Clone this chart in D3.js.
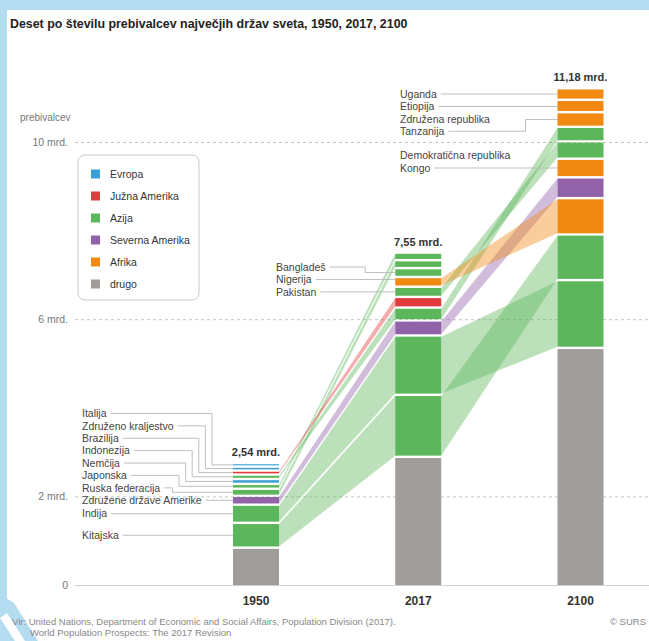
<!DOCTYPE html>
<html>
<head>
<meta charset="utf-8">
<script src="https://cdn.jsdelivr.net/npm/d3@7/dist/d3.min.js"></script>
<style>
  body { margin: 0; background: #fff; }
  svg text { font-family: "Liberation Sans", Arial, sans-serif; }
</style>
</head>
<body>
<svg id="chart" width="649" height="641"></svg>
<script>
(function () {
  'use strict';

  // ---- data (values in billions) ----
  var years = ['1950', '2017', '2100'];
  var totalLabels = ['2,54 mrd.', '7,55 mrd.', '11,18 mrd.'];

  var regions = ['Evropa', 'Južna Amerika', 'Azija', 'Severna Amerika', 'Afrika', 'drugo'];
  var regionColors = ['#3a9fd6', '#e23b3e', '#5cb65b', '#9262a9', '#f28a12', '#a09d9b'];

  // stacked from the bottom up
  var countries1950 = ['drugo', 'Kitajska', 'Indija', 'Združene države Amerike', 'Ruska federacija', 'Japonska', 'Nemčija', 'Indonezija', 'Brazilija', 'Združeno kraljestvo', 'Italija'];
  var region1950 = [5, 2, 2, 3, 2, 2, 0, 2, 1, 0, 0];
  var values1950 = [0.87, 0.56, 0.41, 0.20, 0.16, 0.11, 0.11, 0.10, 0.09, 0.09, 0.08];

  var countries2017 = ['drugo', 'Kitajska', 'Indija', 'Združene države Amerike', 'Indonezija', 'Brazilija', 'Pakistan', 'Nigerija', 'Bangladeš', 'Ruska federacija', 'Japonska'];
  var region2017 = [5, 2, 2, 3, 2, 1, 2, 4, 2, 2, 2];
  var values2017 = [2.92, 1.40, 1.34, 0.34, 0.29, 0.24, 0.23, 0.22, 0.20, 0.18, 0.17];

  var countries2100 = ['drugo', 'Indija', 'Kitajska', 'Nigerija', 'Združene države Amerike', 'Demokratična republika|Kongo', 'Pakistan', 'Indonezija', 'Združena republika|Tanzanija', 'Etiopija', 'Uganda'];
  var region2100 = [5, 2, 2, 4, 3, 4, 2, 2, 4, 4, 4];
  var values2100 = [5.38, 1.53, 1.03, 0.82, 0.47, 0.42, 0.39, 0.33, 0.33, 0.28, 0.26];

  // which countries get a name next to each bar (bottom up)
  var labels1950 = ['Kitajska', 'Indija', 'Združene države Amerike', 'Ruska federacija', 'Japonska', 'Nemčija', 'Indonezija', 'Brazilija', 'Združeno kraljestvo', 'Italija'];
  var labels2017 = ['Pakistan', 'Nigerija', 'Bangladeš'];
  var labels2100 = ['Uganda', 'Etiopija', 'Združena republika|Tanzanija', 'Demokratična republika|Kongo']; // top down

  var tickValues = [0, 2, 6, 10];
  var tickLabels = ['0', '2 mrd.', '6 mrd.', '10 mrd.'];

  // ---- layout ----
  var W = 649, H = 641;
  var barW = 46, gap = 2.4, lineH = 12.4;
  var svg = d3.select('#chart');

  var x = d3.scalePoint().domain(years).range([256, 580.5]);
  var y = d3.scaleLinear().domain([0, 10]).range([585, 142]);

  // frame
  svg.append('rect').attr('width', W).attr('height', 10).attr('fill', '#b4dcf1');
  svg.append('rect').attr('width', 7).attr('height', H).attr('fill', '#b4dcf1');
  svg.append('path').attr('fill', '#b4dcf1')
    .attr('d', 'M0,594 L14,603 L38,641 L0,641 Z');
  svg.append('path').attr('fill', '#fff')
    .attr('d', 'M0,618 L7,613 L25,641 L15,641 Z');

  svg.append('text').attr('x', 10).attr('y', 28)
    .attr('font-size', 12.4).attr('font-weight', 'bold').attr('fill', '#222')
    .text('Deset po številu prebivalcev največjih držav sveta, 1950, 2017, 2100');

  svg.append('text').attr('x', 20).attr('y', 121)
    .attr('font-size', 10).attr('fill', '#777').text('prebivalcev');

  // axis + grid
  var axis = svg.append('g').attr('transform', 'translate(75,0)')
    .call(d3.axisLeft(y).tickValues(tickValues)
      .tickFormat(function (d, i) { return tickLabels[i]; })
      .tickSize(-(W - 75)).tickPadding(7));
  axis.select('.domain').remove();
  axis.selectAll('.tick line')
    .attr('stroke', function (d) { return d === 0 ? '#cfcfcf' : '#c4c4c4'; })
    .attr('stroke-dasharray', function (d) { return d === 0 ? null : '3,3'; });
  axis.selectAll('.tick text').attr('font-size', 10.5).attr('fill', '#777')
    .attr('font-family', '"Liberation Sans", Arial, sans-serif');

  // stack each year
  function stack(year, names, regs, vals) {
    var cum = 0;
    return names.map(function (n, i) {
      var s = { year: year, name: n, region: regs[i], y0: cum, y1: cum + vals[i] };
      cum += vals[i];
      s.top = y(s.y1) + gap;
      s.bot = y(s.y0);
      s.mid = (s.top + s.bot) / 2;
      return s;
    });
  }
  var stacks = [
    stack('1950', countries1950, region1950, values1950),
    stack('2017', countries2017, region2017, values2017),
    stack('2100', countries2100, region2100, values2100)
  ];

  // flows between neighbouring bars
  var flows = [];
  for (var k = 0; k < stacks.length - 1; k++) {
    stacks[k].forEach(function (a) {
      if (a.name === 'drugo') return;
      var b = stacks[k + 1].find(function (s) { return s.name === a.name; });
      if (b) flows.push({ a: a, b: b });
    });
  }
  svg.append('g').selectAll('path').data(flows).join('path')
    .attr('d', function (f) {
      var xa = x(f.a.year) + barW / 2, xb = x(f.b.year) - barW / 2;
      return 'M' + xa + ',' + f.a.top + 'L' + xb + ',' + f.b.top +
        'L' + xb + ',' + f.b.bot + 'L' + xa + ',' + f.a.bot + 'Z';
    })
    .attr('fill', function (f) { return regionColors[f.a.region]; })
    .attr('fill-opacity', 0.42);

  // bars
  var bars = svg.append('g').selectAll('g').data(stacks).join('g');
  bars.selectAll('rect').data(function (d) { return d; }).join('rect')
    .attr('x', function (d) { return x(d.year) - barW / 2; })
    .attr('y', function (d) { return d.top; })
    .attr('width', barW)
    .attr('height', function (d) { return Math.max(0.5, d.bot - d.top); })
    .attr('fill', function (d) { return regionColors[d.region]; });

  // totals above bars
  svg.append('g').selectAll('text').data(stacks).join('text')
    .attr('x', function (d) { return x(d[0].year); })
    .attr('y', function (d) { return d[d.length - 1].top - 8; })
    .attr('text-anchor', 'middle').attr('font-size', 11).attr('font-weight', 'bold').attr('fill', '#333')
    .text(function (d, i) { return totalLabels[i]; });

  // year labels
  svg.append('g').selectAll('text').data(years).join('text')
    .attr('x', function (d) { return x(d); }).attr('y', 605)
    .attr('text-anchor', 'middle').attr('font-size', 12).attr('font-weight', 'bold').attr('fill', '#333')
    .text(function (d) { return d; });

  // country labels with leader lines
  var lab = svg.append('g');
  function drawLabel(seg, textX, lastY, elbowX) {
    var lines = seg.name.split('|');
    var t, i;
    for (i = 0; i < lines.length; i++) {
      t = lab.append('text').attr('x', textX).attr('y', lastY - (lines.length - 1 - i) * lineH)
        .attr('dy', '0.35em').attr('font-size', 10.5).attr('fill', '#444').text(lines[i]);
    }
    var x0 = textX + t.node().getComputedTextLength() + 4;
    var xBar = x(seg.year) - barW / 2;
    var pts = Math.abs(lastY - seg.mid) < 3 ?
      [[x0, lastY], [xBar, lastY]] :
      [[x0, lastY], [elbowX, lastY], [elbowX, seg.mid], [xBar, seg.mid]];
    lab.append('path').attr('d', d3.line()(pts))
      .attr('fill', 'none').attr('stroke', '#b8b8b8').attr('stroke-width', 0.9);
  }

  function segOf(k, name) {
    return stacks[k].find(function (s) { return s.name === name; });
  }

  // 1950: labels pushed upward
  var prev = Infinity;
  labels1950.forEach(function (n, i) {
    var s = segOf(0, n);
    var ly = Math.min(s.mid, prev - lineH);
    prev = ly;
    var elbow = x('1950') - barW / 2 - 21 - 6.6 * (labels1950.length - 1 - i);
    drawLabel(s, 82, ly, elbow);
  });

  // 2017
  var elbow2017 = [0, 17, 30];
  prev = Infinity;
  labels2017.forEach(function (n, i) {
    var s = segOf(1, n);
    var ly = Math.min(s.mid, prev - lineH);
    prev = ly;
    drawLabel(s, 276, ly, x('2017') - barW / 2 - elbow2017[i]);
  });

  // 2100: labels pushed downward
  prev = -Infinity;
  labels2100.forEach(function (n) {
    var s = segOf(2, n);
    var nl = n.split('|').length;
    var ly = Math.max(s.mid, prev + lineH * nl);
    prev = ly;
    drawLabel(s, 400, ly, x('2100') - barW / 2 - 32);
  });

  // legend
  var leg = svg.append('g');
  leg.append('rect').attr('x', 78).attr('y', 155).attr('width', 121).attr('height', 145)
    .attr('rx', 7).attr('fill', '#fff').attr('stroke', '#c8c8c8');
  var items = leg.selectAll('g.item').data(regions).join('g').attr('class', 'item')
    .attr('transform', function (d, i) { return 'translate(91,' + (174 + 22 * i) + ')'; });
  items.append('rect').attr('x', 0).attr('y', -4.5).attr('width', 9).attr('height', 9)
    .attr('fill', function (d, i) { return regionColors[i]; });
  items.append('text').attr('x', 19).attr('dy', '0.35em').attr('font-size', 10.5).attr('fill', '#333')
    .text(function (d) { return d; });

  // source
  svg.append('text').attr('x', 12).attr('y', 625).attr('font-size', 9.5).attr('fill', '#888')
    .text('Vir: United Nations, Department of Economic and Social Affairs, Population Division (2017).');
  svg.append('text').attr('x', 30).attr('y', 636).attr('font-size', 9.5).attr('fill', '#888')
    .text('World Population Prospects: The 2017 Revision');
  svg.append('text').attr('x', 646).attr('y', 625).attr('text-anchor', 'end')
    .attr('font-size', 9.5).attr('fill', '#888')
    .text('© SURS');
})();
</script>
</body>
</html>
